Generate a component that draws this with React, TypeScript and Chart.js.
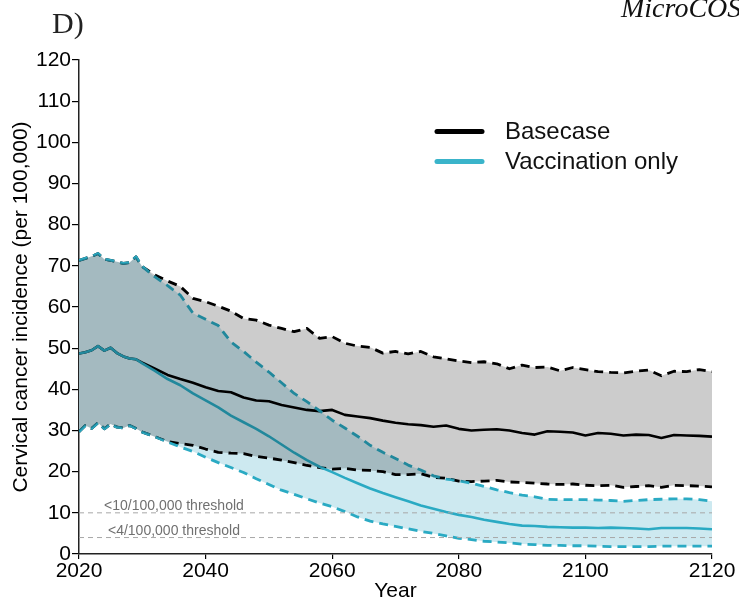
import React, { useEffect, useRef } from "react";
import { Chart, registerables } from "chart.js";

Chart.register(...registerables);

const years = [2020, 2021, 2022, 2023, 2024, 2025, 2026, 2027, 2028, 2029, 2030, 2032, 2034, 2036, 2038, 2040, 2042, 2044, 2046, 2048, 2050, 2052, 2054, 2056, 2058, 2060, 2062, 2064, 2066, 2068, 2070, 2072, 2074, 2076, 2078, 2080, 2082, 2084, 2086, 2088, 2090, 2092, 2094, 2096, 2098, 2100, 2102, 2104, 2106, 2108, 2110, 2112, 2114, 2116, 2118, 2120];

const baseUpper = [71.3, 71.8, 72.3, 73.0, 71.6, 71.3, 71.0, 70.6, 70.8, 72.2, 69.8,
  67.8, 66.3, 65.0, 62.1, 61.3, 60.2, 59.0, 57.2, 56.8, 55.6, 54.8, 54.0, 54.8, 52.4, 52.8, 51.2, 50.5, 50.2, 48.8, 49.2,
  48.6, 49.2, 47.9, 47.4, 46.9, 46.5, 46.7, 46.2, 45.0, 45.9, 45.3, 45.4, 44.5, 45.3, 44.8, 44.3, 44.1, 44.0, 44.4, 44.7, 43.3, 44.4, 44.3, 44.8, 44.3];

const baseMean = [48.7, 49.0, 49.5, 50.5, 49.4, 50.1, 48.8, 48.0, 47.5, 47.3, 46.5,
  45.0, 43.5, 42.5, 41.6, 40.5, 39.6, 39.3, 38.0, 37.3, 37.1, 36.2, 35.6, 35.0, 34.7, 35.0, 33.8, 33.4, 33.0, 32.4, 31.9,
  31.5, 31.3, 30.9, 31.2, 30.4, 30.0, 30.2, 30.3, 30.0, 29.4, 29.0, 29.8, 29.7, 29.5, 28.8, 29.4, 29.2, 28.8, 29.0, 28.9, 28.2, 28.9, 28.8, 28.7, 28.5];

const baseLower = [29.7, 31.2, 30.5, 31.9, 30.4, 31.6, 30.8, 30.6, 31.2, 30.5, 29.6,
  28.5, 27.3, 26.8, 26.4, 25.5, 24.7, 24.5, 24.4, 23.7, 23.3, 22.8, 22.2, 21.5, 21.0, 20.6, 20.8, 20.4, 20.3, 20.0, 19.3,
  19.3, 19.5, 18.6, 18.4, 17.7, 17.6, 17.7, 17.9, 17.5, 17.4, 17.2, 17.0, 16.9, 17.0, 16.7, 16.6, 16.7, 16.2, 16.4, 16.6, 16.2, 16.7, 16.6, 16.5, 16.3];

const vaccUpper = [71.3, 71.8, 72.3, 73.0, 71.6, 71.3, 71.0, 70.6, 70.8, 72.2, 69.8,
  67.3, 65.2, 62.9, 58.5, 57.0, 55.5, 51.5, 49.2, 46.6, 44.2, 41.6, 39.0, 37.0, 34.8, 32.5, 30.6, 28.6, 26.4, 24.7, 23.2,
  21.6, 20.4, 19.0, 18.2, 17.8, 17.2, 16.4, 15.6, 14.9, 14.3, 13.9, 13.3, 13.2, 13.2, 13.2, 13.1, 13.0, 12.8, 13.0, 13.2, 13.3, 13.4, 13.4, 13.2, 12.8];

const vaccMean = [48.7, 49.0, 49.5, 50.5, 49.4, 50.1, 48.8, 48.0, 47.5, 47.3, 46.3,
  44.5, 42.5, 41.0, 39.0, 37.3, 35.6, 33.6, 32.0, 30.4, 28.6, 26.6, 24.6, 22.8, 21.2, 19.9, 18.5, 17.2, 15.9, 14.8, 13.8,
  12.8, 11.8, 11.0, 10.2, 9.5, 9.0, 8.3, 7.8, 7.3, 6.9, 6.8, 6.6, 6.5, 6.4, 6.4, 6.3, 6.4, 6.3, 6.2, 6.0, 6.3, 6.3, 6.3, 6.2, 6.0];

const vaccLower = [29.7, 31.2, 30.5, 31.9, 30.4, 31.6, 30.8, 30.6, 31.2, 30.5, 29.6,
  28.5, 27.2, 26.0, 24.9, 23.5, 22.2, 21.0, 19.8, 18.3, 16.9, 15.5, 14.5, 13.4, 12.4, 11.5, 10.3, 9.0, 8.0, 7.3, 6.7,
  6.1, 5.5, 5.0, 4.4, 3.8, 3.5, 3.1, 2.9, 2.7, 2.4, 2.3, 2.1, 2.1, 2.0, 2.0, 1.9, 1.8, 1.8, 1.8, 1.8, 1.9, 1.9, 1.9, 1.9, 1.9];

const thresholds = [10, 4];
const thresholdLabels = ["<10/100,000 threshold", "<4/100,000 threshold"];
const legendLabels = ["Basecase", "Vaccination only"];

const SANS = '"Liberation Sans", Arial, Helvetica, sans-serif';
const SERIF = '"Liberation Serif", "Times New Roman", serif';
const TEAL = "#2aaac3";
const TEAL_LEGEND = "#3ab4ca";
const TEAL_FILL = "#cde9f0";
const GRAY_OVER = "rgba(0,0,0,0.2)";
const NONE = "rgba(0,0,0,0)";

export default function App() {
  const ref = useRef<HTMLCanvasElement>(null);

  useEffect(() => {
    if (!ref.current) return;
    const pts = (arr: number[]) => years.map((x, i) => ({ x, y: arr[i] }));
    const dash = [9, 6];
    const line = (label: string, arr: number[], color: string, dashed: boolean, order: number) => ({
      label,
      data: pts(arr),
      borderColor: color,
      borderWidth: dashed ? 2.8 : 2.6,
      borderDash: dashed ? dash : [],
      borderJoinStyle: "round",
      pointRadius: 0,
      fill: false,
      tension: 0,
      order,
    });

    const datasets: any[] = [
      // 0: vaccination band fill (carrier)
      { label: "vaccBand", data: pts(vaccUpper), borderColor: NONE, borderWidth: 0, pointRadius: 0, fill: { target: 5 }, backgroundColor: TEAL_FILL, order: 6 },
      // 1-3: basecase lines
      line("Basecase", baseMean, "#000", false, 5),
      line("baseUpper", baseUpper, "#000", true, 5),
      line("baseLower", baseLower, "#000", true, 5),
      // 4-6: vaccination lines
      line("Vaccination only", vaccMean, TEAL, false, 4),
      line("vaccLower", vaccLower, TEAL, true, 4),
      line("vaccUpper", vaccUpper, TEAL, true, 4),
      // 7: basecase band fill (carrier, translucent overlay)
      { label: "baseBand", data: pts(baseUpper), borderColor: NONE, borderWidth: 0, pointRadius: 0, fill: { target: 3 }, backgroundColor: GRAY_OVER, order: 3 },
      // 8-9: thresholds
      ...thresholds.map((t, i) => ({
        label: thresholdLabels[i],
        data: [{ x: years[0], y: t }, { x: years[years.length - 1], y: t }],
        borderColor: "#a8a8a8",
        borderWidth: 1,
        borderDash: [5, 4],
        pointRadius: 0,
        fill: false,
        order: 2,
      })),
    ];

    const overlay = {
      id: "overlay",
      afterDatasetsDraw(chart: any) {
        const { ctx, scales } = chart;
        ctx.save();
        ctx.font = `14px ${SANS}`;
        ctx.fillStyle = "#707070";
        ctx.textAlign = "center";
        ctx.textBaseline = "alphabetic";
        thresholds.forEach((t, i) => {
          const x = scales.x.getPixelForValue(2035);
          const y = scales.y.getPixelForValue(t) - 2.5;
          ctx.fillText(thresholdLabels[i], x, y);
        });
        ctx.restore();
      },
      afterDraw(chart: any) {
        const { ctx } = chart;
        ctx.save();
        // legend
        const colors = ["#000", TEAL_LEGEND];
        const rows = [131.5, 161.5];
        legendLabels.forEach((lab, i) => {
          ctx.strokeStyle = colors[i];
          ctx.lineWidth = 5;
          ctx.lineCap = "round";
          ctx.setLineDash([]);
          ctx.beginPath();
          ctx.moveTo(437, rows[i]);
          ctx.lineTo(482, rows[i]);
          ctx.stroke();
          ctx.fillStyle = "#111";
          ctx.font = `24px ${SANS}`;
          ctx.textAlign = "left";
          ctx.textBaseline = "middle";
          ctx.fillText(lab, 505, rows[i] + 1);
        });
        // panel letter and source
        ctx.fillStyle = "#222";
        ctx.font = `30px ${SERIF}`;
        ctx.textAlign = "left";
        ctx.textBaseline = "alphabetic";
        ctx.fillText("D)", 52, 33);
        ctx.font = `italic 28px ${SERIF}`;
        ctx.fillStyle = "#111";
        ctx.fillText("MicroCOSM", 621, 17);
        ctx.restore();
      },
    };

    const chart = new Chart(ref.current, {
      type: "line",
      data: { datasets },
      options: {
        animation: false,
        responsive: false,
        events: [],
        layout: { padding: { left: 0, right: 27, top: 60, bottom: 0 } },
        plugins: { legend: { display: false }, tooltip: { enabled: false } },
        scales: {
          x: {
            type: "linear",
            min: 2020,
            max: 2120,
            ticks: {
              stepSize: 20,
              autoSkip: false,
              maxRotation: 0,
              padding: 0,
              color: "#000",
              font: { family: SANS, size: 21 },
              callback: (v: any) => String(v),
            },
            grid: { drawOnChartArea: false, drawTicks: true, tickLength: 5, color: "#000", lineWidth: 1.2 },
            border: { display: true, color: "#222", width: 1.5 },
            title: { display: true, text: "Year", color: "#000", font: { family: SANS, size: 21 }, padding: { top: 0, bottom: 0 } },
            afterFit: (s: any) => { s.height = 50; },
          },
          y: {
            type: "linear",
            min: 0,
            max: 120,
            ticks: {
              stepSize: 10,
              padding: 1,
              color: "#000",
              font: { family: SANS, size: 21 },
              callback: (v: any) => String(v),
            },
            grid: { drawOnChartArea: false, drawTicks: true, tickLength: 7, color: "#000", lineWidth: 1.2 },
            border: { display: true, color: "#222", width: 1.5 },
            title: {
              display: true,
              text: "Cervical cancer incidence (per 100,000)",
              color: "#000",
              font: { family: SANS, size: 21 },
              padding: { top: 9, bottom: 0 },
            },
            afterFit: (s: any) => { s.width = 79; },
          },
        },
      },
      plugins: [overlay],
    } as any);

    return () => chart.destroy();
  }, []);

  return (
    <div style={{ position: "absolute", left: 0, top: 0, width: 739, height: 604, background: "#fff" }}>
      <canvas ref={ref} width={739} height={604} style={{ width: 739, height: 604, display: "block" }} />
    </div>
  );
}
